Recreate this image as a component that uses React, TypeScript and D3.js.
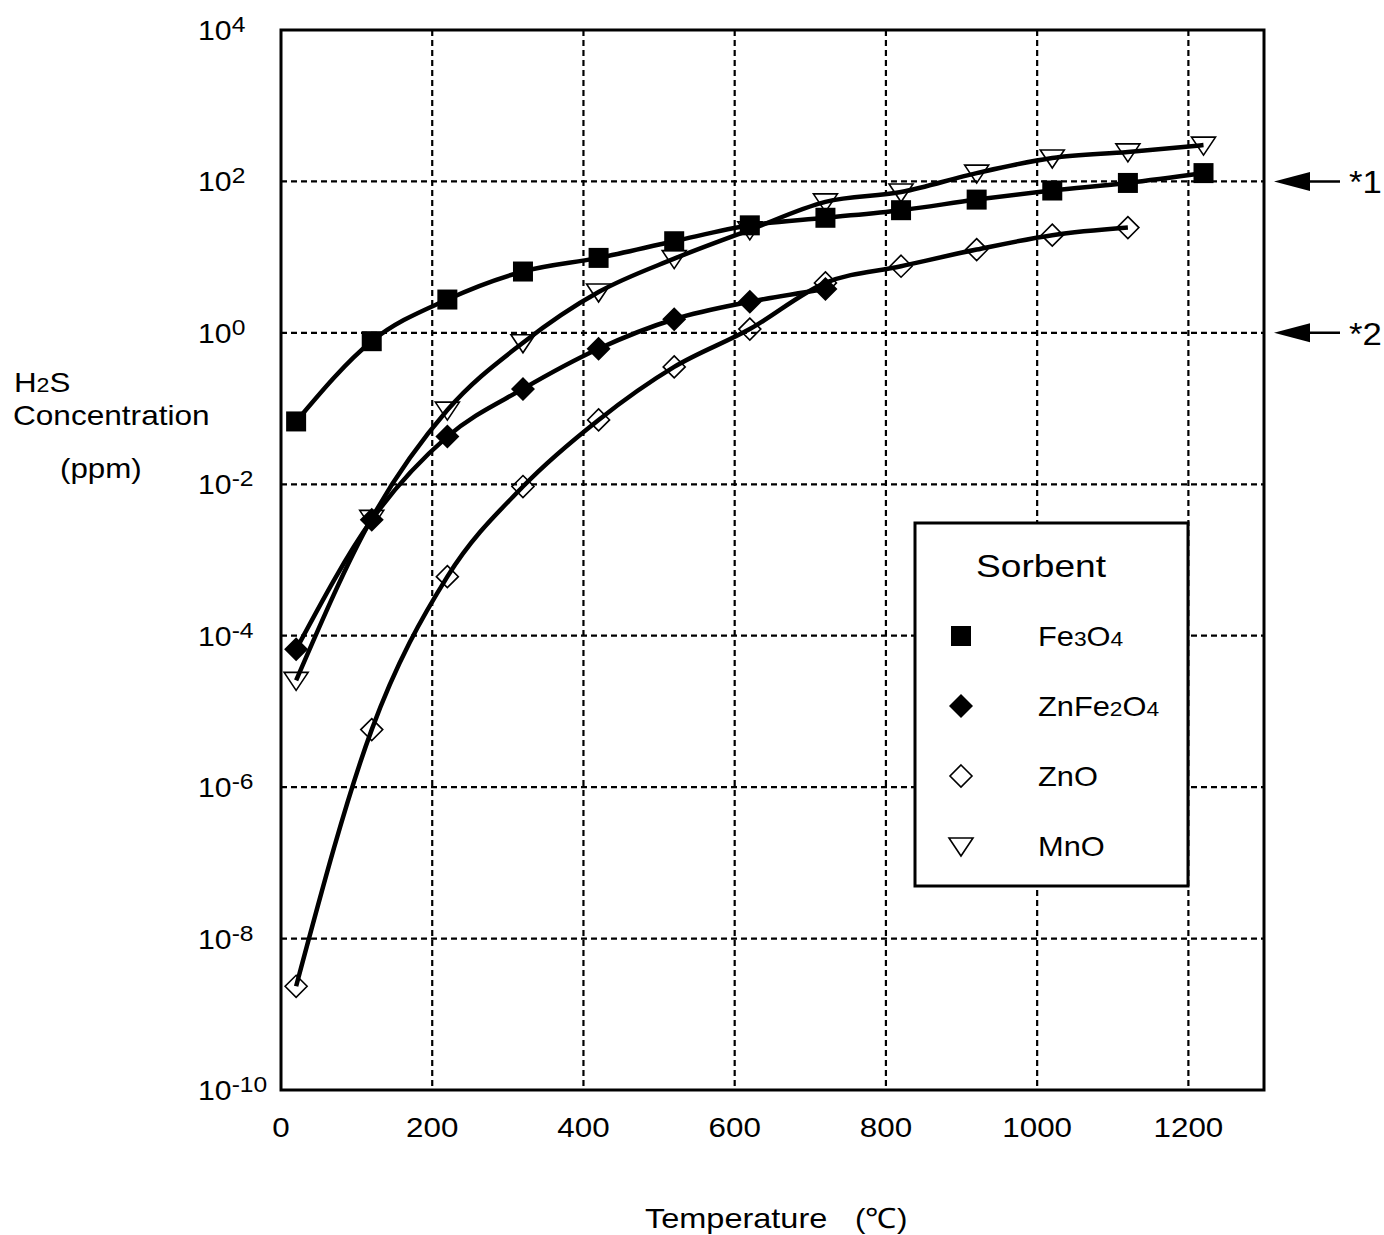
import React from "react";
import * as d3 from "d3";

// Temperatures (°C) at which equilibrium H2S was evaluated
const temps = [20, 120, 220, 320, 420, 520, 620, 720, 820, 920, 1020, 1120, 1220];

// log10 of H2S concentration (ppm) for each sorbent
const fe3o4Log = [-1.17, -0.11, 0.44, 0.81, 0.99, 1.21, 1.42, 1.52, 1.62, 1.76, 1.88, 1.98, 2.11];
const znfe2o4Log = [-4.18, -2.47, -1.37, -0.74, -0.21, 0.18, 0.41, 0.58];
const znoLog = [-8.63, -5.24, -3.22, -2.03, -1.15, -0.45, 0.05, 0.66, 0.88, 1.1, 1.29, 1.39];
const mnoLog = [-4.59, -2.45, -1.02, -0.13, 0.54, 0.98, 1.36, 1.73, 1.86, 2.11, 2.31, 2.39, 2.48];

const xTicks = [0, 200, 400, 600, 800, 1000, 1200];
const yExps = [4, 2, 0, -2, -4, -6, -8, -10];
const refLines = [
  { exp: 2, label: "*1" },
  { exp: 0, label: "*2" },
];

type Sym = "square" | "diamondFilled" | "diamondOpen" | "triangle";

const series: { name: string; sub: [string, string][]; sym: Sym; vals: number[] }[] = [
  { name: "Fe3O4", sub: [["Fe", "n"], ["3", "s"], ["O", "n"], ["4", "s"]], sym: "square", vals: fe3o4Log },
  { name: "ZnFe2O4", sub: [["ZnFe", "n"], ["2", "s"], ["O", "n"], ["4", "s"]], sym: "diamondFilled", vals: znfe2o4Log },
  { name: "ZnO", sub: [["ZnO", "n"]], sym: "diamondOpen", vals: znoLog },
  { name: "MnO", sub: [["MnO", "n"]], sym: "triangle", vals: mnoLog },
];

const FONT = "'Liberation Sans', Arial, Helvetica, sans-serif";

function T({
  x,
  y,
  size,
  anchor = "start",
  sx = 1.12,
  children,
}: {
  x: number;
  y: number;
  size: number;
  anchor?: "start" | "middle" | "end";
  sx?: number;
  children: React.ReactNode;
}) {
  return (
    <text transform={`translate(${x},${y}) scale(${sx},1)`} fontSize={size} textAnchor={anchor} fill="#000">
      {children}
    </text>
  );
}

function Marker({ sym, x, y }: { sym: Sym; x: number; y: number }) {
  if (sym === "square") {
    return <rect x={x - 10} y={y - 10} width={20} height={20} fill="#000" />;
  }
  if (sym === "diamondFilled") {
    const r = 12;
    return <path d={`M${x},${y - r}L${x + r},${y}L${x},${y + r}L${x - r},${y}Z`} fill="#000" />;
  }
  if (sym === "diamondOpen") {
    const r = 11;
    return (
      <path
        d={`M${x},${y - r}L${x + r},${y}L${x},${y + r}L${x - r},${y}Z`}
        fill="none"
        stroke="#000"
        strokeWidth={1.6}
      />
    );
  }
  return (
    <path
      d={`M${x - 12},${y - 8}L${x + 12},${y - 8}L${x},${y + 10}Z`}
      fill="none"
      stroke="#000"
      strokeWidth={1.6}
    />
  );
}

export default function App() {
  const width = 1384;
  const height = 1235;
  const left = 281;
  const right = 1264;
  const top = 30;
  const bottom = 1090;

  const x = d3.scaleLinear().domain([0, 1300]).range([left, right]);
  const y = d3.scaleLinear().domain([-10, 4]).range([bottom, top]);

  const line = d3
    .line<[number, number]>()
    .x((d) => x(d[0]))
    .y((d) => y(d[1]))
    .curve(d3.curveMonotoneX);

  const gridDash = "6,4";

  return (
    <svg
      width={width}
      height={height}
      style={{ display: "block", position: "absolute", left: 0, top: 0 }}
      fontFamily={FONT}
    >
      <rect width={width} height={height} fill="#fff" />

      {/* grid */}
      {xTicks
        .filter((t) => t > 0)
        .map((t) => (
          <line key={"gx" + t} x1={x(t)} x2={x(t)} y1={top} y2={bottom} stroke="#000" strokeWidth={2.2} strokeDasharray={gridDash} />
        ))}
      {yExps
        .filter((e) => e > -10 && e < 4)
        .map((e) => (
          <line key={"gy" + e} x1={left} x2={right} y1={y(e)} y2={y(e)} stroke="#000" strokeWidth={2.2} strokeDasharray={gridDash} />
        ))}

      {/* frame */}
      <rect x={left} y={top} width={right - left} height={bottom - top} fill="none" stroke="#000" strokeWidth={3} />

      {/* y tick labels */}
      {yExps.map((e) => (
        <T key={"ty" + e} x={198} y={y(e) + 10} size={27}>
          10
          <tspan dy={-8} fontSize={22}>
            {e}
          </tspan>
        </T>
      ))}

      {/* x tick labels */}
      {xTicks.map((t) => (
        <T key={"tx" + t} x={x(t)} y={1137} size={28} anchor="middle">
          {t}
        </T>
      ))}

      {/* axis titles */}
      <T x={645} y={1228} size={28} sx={1.16}>
        Temperature
      </T>
      <T x={855} y={1228} size={28}>
        (℃)
      </T>
      <T x={14} y={392} size={27} sx={1.16}>
        H<tspan fontSize={20}>2</tspan>S
      </T>
      <T x={13} y={425} size={27} sx={1.17}>
        Concentration
      </T>
      <T x={60} y={478} size={27} sx={1.16}>
        (ppm)
      </T>

      {/* curves */}
      {series.map((s) => (
        <path
          key={"l" + s.name}
          d={line(s.vals.map((v, i) => [temps[i], v] as [number, number])) || ""}
          fill="none"
          stroke="#000"
          strokeWidth={4.5}
          strokeLinejoin="round"
        />
      ))}

      {/* markers */}
      {series.map((s) =>
        s.vals.map((v, i) => <Marker key={s.name + i} sym={s.sym} x={x(temps[i])} y={y(v)} />)
      )}

      {/* reference arrows */}
      {refLines.map((r) => {
        const yy = y(r.exp);
        return (
          <g key={r.label}>
            <path d={`M1274,${yy}L1310,${yy - 9.5}L1310,${yy + 9.5}Z`} fill="#000" />
            <line x1={1306} x2={1340} y1={yy} y2={yy} stroke="#000" strokeWidth={2.5} />
            <T x={1349} y={yy + 12} size={31}>
              {r.label}
            </T>
          </g>
        );
      })}

      {/* legend */}
      <rect x={915} y={523} width={273} height={363} fill="#fff" stroke="#000" strokeWidth={3} />
      <T x={976} y={577} size={32} sx={1.16}>
        Sorbent
      </T>
      {series.map((s, i) => {
        const cy = 636 + i * 70;
        return (
          <g key={"lg" + s.name}>
            <Marker sym={s.sym} x={961} y={cy} />
            <T x={1038} y={cy + 10} size={27} sx={1.14}>
              {s.sub.map(([t, k], j) => (
                <tspan key={j} fontSize={k === "s" ? 20 : 27}>
                  {t}
                </tspan>
              ))}
            </T>
          </g>
        );
      })}
    </svg>
  );
}
